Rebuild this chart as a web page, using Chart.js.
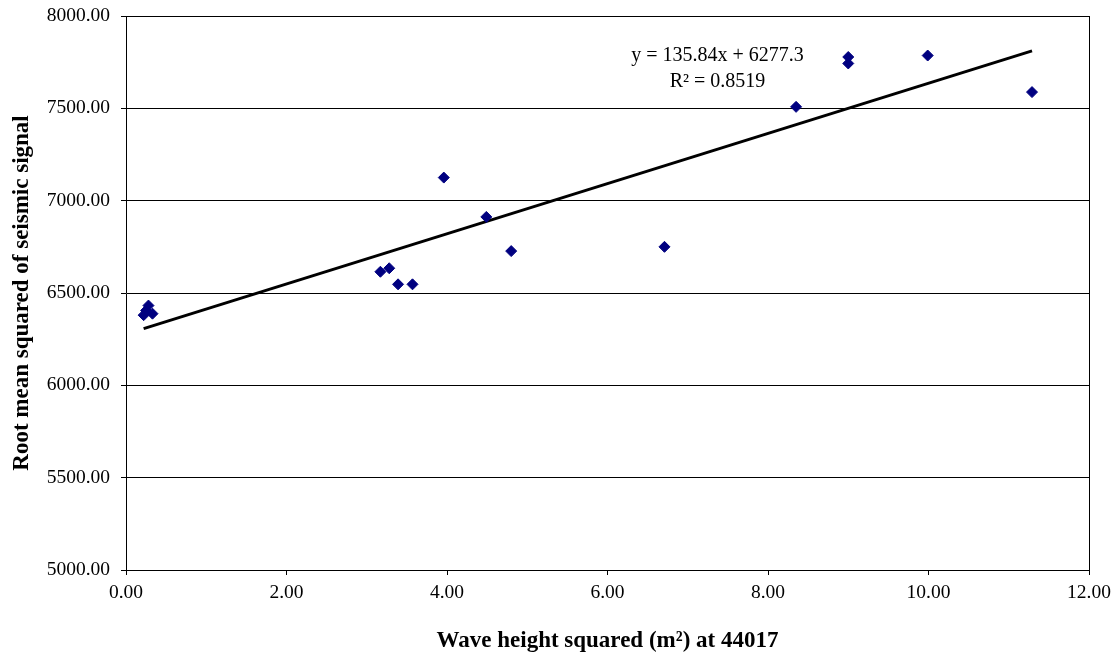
<!DOCTYPE html>
<html>
<head>
<meta charset="utf-8">
<script src="https://cdn.jsdelivr.net/npm/chart.js@4.4.1/dist/chart.umd.min.js"></script>
<style>
  html, body { margin: 0; padding: 0; background: #fff; }
  #wrap { width: 1119px; height: 660px; position: relative; }
</style>
</head>
<body>
<div id="wrap"><canvas id="chart"></canvas></div>
<script>
// Wave height squared vs RMS seismic signal (buoy 44017)
const waveSq = [0.22, 0.25, 0.28, 0.33, 3.17, 3.28, 3.39, 3.57, 3.96, 4.49, 4.80, 6.71, 8.35, 9.00, 9.00, 9.99, 11.29];
const rmsSignal = [6380, 6405, 6432, 6388, 6615, 6634, 6547, 6547, 7125, 6912, 6727, 6750, 7508, 7778, 7743, 7786, 7588];

// Linear trend line (from the fitted equation shown on the chart)
const slope = 135.84;
const intercept = 6277.3;
const trendLabel = "y = 135.84x + 6277.3";
const r2Label = "R\u00b2 = 0.8519";

const xTitle = "Wave height squared (m\u00b2) at 44017";
const yTitle = "Root mean squared of seismic signal";

const serif = "'Times New Roman', 'Liberation Serif', serif";

const points = waveSq.map((x, i) => ({ x: x, y: rmsSignal[i] }));
const xMin = Math.min(...waveSq);
const xMax = Math.max(...waveSq);
const trend = [
  { x: xMin, y: slope * xMin + intercept },
  { x: xMax, y: slope * xMax + intercept },
];

// Equation text, placed in data units near the upper middle
const eqLabel = {
  id: "eqLabel",
  afterDatasetsDraw(chart) {
    const { ctx, scales } = chart;
    const cx = scales.x.getPixelForValue(7.37);
    ctx.save();
    ctx.fillStyle = "#000";
    ctx.font = "20px " + serif;
    ctx.textAlign = "center";
    ctx.textBaseline = "middle";
    ctx.fillText(trendLabel, cx, scales.y.getPixelForValue(7786));
    ctx.fillText(r2Label, cx, scales.y.getPixelForValue(7643));
    ctx.restore();
  },
};

new Chart(document.getElementById("chart"), {
  type: "scatter",
  data: {
    datasets: [
      {
        label: "RMS",
        data: points,
        pointStyle: "rectRot",
        radius: 5.5,
        hoverRadius: 5.5,
        backgroundColor: "#000080",
        borderColor: "#000080",
        borderWidth: 1,
        order: 1,
      },
      {
        label: "Linear",
        type: "line",
        data: trend,
        borderColor: "#000",
        borderWidth: 3,
        pointRadius: 0,
        fill: false,
        order: 2,
      },
    ],
  },
  options: {
    responsive: true,
    maintainAspectRatio: false,
    animation: false,
    layout: { padding: { top: 16, right: 30, left: 0, bottom: 0 } },
    plugins: {
      legend: { display: false },
      tooltip: { enabled: false },
    },
    scales: {
      x: {
        type: "linear",
        min: 0,
        max: 12,
        afterFit: (s) => { s.height = 90; },
        ticks: {
          stepSize: 2,
          padding: 6,
          color: "#000",
          font: { family: serif, size: 19.5 },
          callback: (v) => v.toFixed(2),
        },
        grid: {
          color: (c) => (c.tick && c.tick.value === 12 ? "#000" : "rgba(0,0,0,0)"),
          tickColor: "#000",
          tickLength: 5,
        },
        border: { color: "#000", width: 1 },
        title: {
          display: true,
          text: xTitle,
          color: "#000",
          font: { family: serif, size: 23, weight: "bold" },
          padding: { top: 0, bottom: 5 },
        },
      },
      y: {
        type: "linear",
        min: 5000,
        max: 8000,
        afterFit: (s) => {
          s.width = 126;
          s.paddingTop = 0;
          s.paddingBottom = 0;
        },
        ticks: {
          stepSize: 500,
          padding: 11,
          color: "#000",
          font: { family: serif, size: 19.5 },
          callback: (v) => v.toFixed(2),
        },
        grid: {
          color: "#000",
          tickColor: "#000",
          tickLength: 5,
        },
        border: { color: "#000", width: 1 },
        title: {
          display: true,
          text: yTitle,
          color: "#000",
          font: { family: serif, size: 23, weight: "bold" },
          padding: { top: 8, bottom: 0 },
        },
      },
    },
  },
  plugins: [eqLabel],
});
</script>
</body>
</html>
